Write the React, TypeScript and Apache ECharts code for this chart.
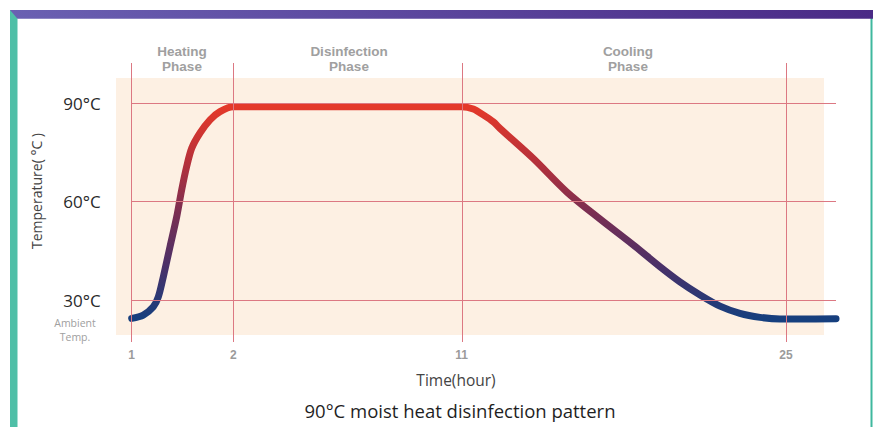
import React, { useEffect, useRef } from "react";
import * as echarts from "echarts";

// Labelled time ticks (hours) and their schematic positions on the stretched axis
const TICK_HOURS = [1, 2, 11, 25];
const TICK_SLOTS = [0, 1, 3.248, 6.44];
const X_MAX_SLOT = 6.932;

// Temperature ticks
const Y_TICKS = [30, 60, 90];

// Process curve: time (hours) and temperature (°C)
const CURVE_HOURS = [
  1, 1.114, 1.213, 1.262, 1.311, 1.377, 1.443, 1.492, 1.541, 1.591, 1.672, 1.771, 1.869, 2.0,
  11.0, 11.5, 11.93, 12.36, 12.65, 14.08, 15.53, 16.97, 18.41, 19.56, 20.42, 21.29, 22.15,
  23.01, 23.88, 24.74, 25.6, 27.16,
];
const CURVE_TEMPS = [
  24.5, 25.5, 28.0, 31.0, 37.1, 46.3, 55.4, 63.6, 70.7, 76.3, 80.9, 84.9, 87.4, 88.9,
  88.9, 88.2, 86.4, 84.3, 82.3, 73.2, 63.0, 54.7, 46.8, 40.2, 35.6, 31.6, 28.2,
  26.0, 24.8, 24.3, 24.3, 24.4,
];

const PHASE_LABELS = [
  ["Heating", "Phase"],
  ["Disinfection", "Phase"],
  ["Cooling", "Phase"],
];

function hourToSlot(h: number): number {
  let i = 0;
  while (i < TICK_HOURS.length - 2 && h > TICK_HOURS[i + 1]) i++;
  const h0 = TICK_HOURS[i], h1 = TICK_HOURS[i + 1];
  const s0 = TICK_SLOTS[i], s1 = TICK_SLOTS[i + 1];
  return s0 + ((h - h0) / (h1 - h0)) * (s1 - s0);
}

export default function App() {
  const ref = useRef<HTMLDivElement>(null);

  useEffect(() => {
    if (!ref.current) return;
    const chart = echarts.init(ref.current, undefined, { renderer: "svg" });

    const curveData = CURVE_HOURS.map((h, i) => [hourToSlot(h), CURVE_TEMPS[i]]);
    const gridLineStyle = { color: "#dc7882", width: 1, type: "solid" as const };

    const phaseX = [182, 349, 628];
    const phaseTexts: any[] = [];
    PHASE_LABELS.forEach((lines, i) => {
      lines.forEach((t, j) => {
        phaseTexts.push({
          type: "text",
          z: 5,
          x: phaseX[i],
          y: 51 + j * 15.5,
          style: {
            text: t,
            fill: "#a0a0a0",
            fontSize: 13.5,
            fontWeight: "bold",
            fontFamily: "Liberation Sans",
            textAlign: "center",
            textVerticalAlign: "middle",
          },
          silent: true,
        });
      });
    });

    chart.setOption({
      animation: false,
      backgroundColor: "#ffffff",
      grid: { left: 131.7, right: 37, top: 63, bottom: 85 },
      xAxis: {
        type: "value",
        min: 0,
        max: X_MAX_SLOT,
        axisLine: { show: false },
        axisTick: { show: false },
        splitLine: { show: false },
        axisLabel: {
          customValues: TICK_SLOTS,
          formatter: (v: number) => {
            const idx = TICK_SLOTS.findIndex((s) => Math.abs(s - v) < 1e-6);
            return idx >= 0 ? String(TICK_HOURS[idx]) : "";
          },
          color: "#9b9b9b",
          fontWeight: "bold",
          fontSize: 12,
          fontFamily: "Liberation Sans",
          margin: 7,
        },
      },
      yAxis: {
        type: "value",
        min: 17.3,
        max: 102.2,
        axisLine: { show: false },
        axisTick: { show: false },
        splitLine: { show: false },
        axisLabel: {
          customValues: Y_TICKS,
          formatter: (v: number) => `${v}°C`,
          color: "#2a2a2a",
          fontSize: 17,
          fontFamily: "Open Sans",
          margin: 31,
        },
      },
      graphic: [
        {
          type: "rect",
          z: -10,
          shape: { x: 116, y: 78, width: 708, height: 257 },
          style: { fill: "#fdf0e3" },
          silent: true,
        },
        {
          type: "rect",
          z: 10,
          shape: { x: 10, y: 10, width: 7.5, height: 417 },
          style: { fill: "#4fbfa7" },
          silent: true,
        },
        {
          type: "rect",
          z: 10,
          shape: { x: 870.5, y: 12, width: 2, height: 415 },
          style: { fill: "#3fb89e" },
          silent: true,
        },
        {
          type: "polygon",
          z: 11,
          shape: { points: [[10, 10], [873, 10], [873, 18.8], [17.5, 18.8]] },
          style: {
            fill: new echarts.graphic.LinearGradient(0, 0, 1, 0, [
              { offset: 0, color: "#6a60b2" },
              { offset: 1, color: "#4a2a86" },
            ]),
          },
          silent: true,
        },
        ...phaseTexts,
        {
          type: "text",
          z: 5,
          x: 75,
          y: 323,
          style: {
            text: "Ambient",
            fill: "#a0a0a0",
            fontSize: 10.5,
            fontFamily: "Open Sans",
            textAlign: "center",
            textVerticalAlign: "middle",
          },
          silent: true,
        },
        {
          type: "text",
          z: 5,
          x: 75,
          y: 337,
          style: {
            text: "Temp.",
            fill: "#a0a0a0",
            fontSize: 10.5,
            fontFamily: "Open Sans",
            textAlign: "center",
            textVerticalAlign: "middle",
          },
          silent: true,
        },
        {
          type: "text",
          z: 5,
          x: 36,
          y: 191,
          rotation: Math.PI / 2,
          style: {
            text: "Temperature( °C )",
            fill: "#444444",
            fontSize: 14,
            fontFamily: "Open Sans",
            textAlign: "center",
            textVerticalAlign: "middle",
          },
          silent: true,
        },
        {
          type: "text",
          z: 5,
          x: 456,
          y: 380,
          style: {
            text: "Time(hour)",
            fill: "#444444",
            fontSize: 15.5,
            fontFamily: "Open Sans",
            textAlign: "center",
            textVerticalAlign: "middle",
          },
          silent: true,
        },
        {
          type: "text",
          z: 5,
          x: 460,
          y: 410,
          style: {
            text: "90°C moist heat disinfection pattern",
            fill: "#1f1f1f",
            fontSize: 18.5,
            fontFamily: "Open Sans",
            textAlign: "center",
            textVerticalAlign: "middle",
          },
          silent: true,
        },
      ],
      series: [
        {
          type: "line",
          z: 1,
          data: [],
          silent: true,
          markLine: {
            silent: true,
            symbol: ["none", "none"],
            label: { show: false },
            lineStyle: gridLineStyle,
            emphasis: { disabled: true },
            data: [
              ...Y_TICKS.map((v) => ({ yAxis: v })),
              ...TICK_SLOTS.map((s) => ({ xAxis: s })),
            ],
          },
        },
        {
          type: "line",
          z: 3,
          data: curveData,
          showSymbol: false,
          symbol: "none",
          smooth: 0.3,
          silent: true,
          lineStyle: {
            width: 7,
            cap: "round",
            join: "round",
            color: new echarts.graphic.LinearGradient(0, 0, 0, 1, [
              { offset: 0, color: "#e4392a" },
              { offset: 0.25, color: "#b8313a" },
              { offset: 0.5, color: "#7a2e52" },
              { offset: 0.75, color: "#4a3068" },
              { offset: 1, color: "#163f7e" },
            ]),
          },
        },
      ],
    });

    return () => chart.dispose();
  }, []);

  return (
    <div
      ref={ref}
      style={{ position: "fixed", left: 0, top: 0, width: 873, height: 427, background: "#fff" }}
    />
  );
}
